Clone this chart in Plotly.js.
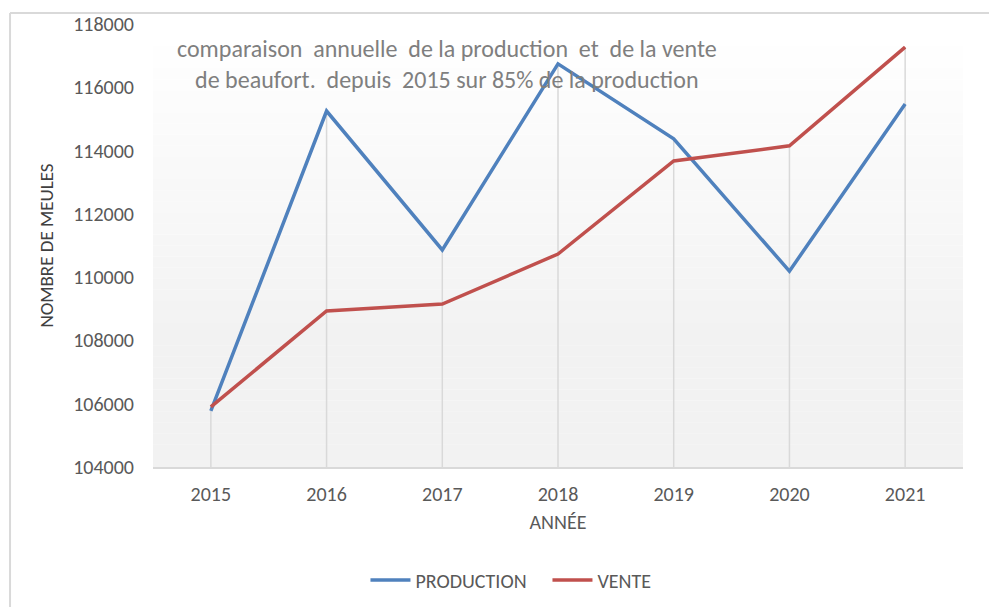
<!DOCTYPE html>
<html>
<head>
<meta charset="utf-8">
<script src="https://cdn.plot.ly/plotly-3.0.1.min.js"></script>
<style>
html,body{margin:0;padding:0;background:#fff;}
#chart{width:989px;height:607px;}
</style>
</head>
<body>
<div id="chart"></div>
<script>
var years = ['2015','2016','2017','2018','2019','2020','2021'];
var production = [105770, 115250, 110860, 116740, 114370, 110190, 115470];
var vente = [105900, 108930, 109150, 110730, 113670, 114150, 117270];
var yTicks = [104000, 106000, 108000, 110000, 112000, 114000, 116000, 118000];

var shapes = [];
// gradient plot background (white at top to light gray at bottom)
var N = 40;
for (var i = 0; i < N; i++) {
  var t = i / (N - 1);
  var c = Math.round(255 - (255 - 242) * Math.min(1, (1 - t) * 1.4));
  shapes.push({type:'rect', xref:'x domain', yref:'y domain', layer:'below',
    x0:0, x1:1, y0:i/N, y1:(i+1)/N, line:{width:0},
    fillcolor:'rgb('+c+','+c+','+c+')'});
}
// chart frame (top and left edges visible)
shapes.push({type:'line', xref:'paper', yref:'paper', x0:-0.1765, x1:1.05, y0:1.0248, y1:1.0248, line:{color:'#d9d9d9', width:2}});
shapes.push({type:'line', xref:'paper', yref:'paper', x0:-0.1765, x1:-0.1765, y0:1.0248, y1:-0.4, line:{color:'#d9d9d9', width:2}});

// drop lines from the highest series value down to the axis
var dropX = [], dropY = [];
years.forEach(function (yr, k) {
  dropX.push(yr, yr, null);
  dropY.push(Math.max(production[k], vente[k]), yTicks[0], null);
});

var data = [
  {x: dropX, y: dropY, type:'scatter', mode:'lines', showlegend:false, hoverinfo:'skip',
   line:{color:'#d9d9d9', width:1.5}, connectgaps:false},
  {x: years, y: production, name: 'PRODUCTION', type:'scatter', mode:'lines',
   line:{color:'#4F81BD', width:3.5}},
  {x: years, y: vente, name: 'VENTE', type:'scatter', mode:'lines',
   line:{color:'#C0504D', width:3.5}}
];

var layout = {
  width: 989, height: 607,
  margin: {l:153, r:26, t:24, b:140, autoexpand:false},
  paper_bgcolor: 'rgba(0,0,0,0)',
  plot_bgcolor: 'rgba(0,0,0,0)',
  font: {family: 'Carlito, "Open Sans", "Liberation Sans", sans-serif', color:'#595959', size:20},
  showlegend: true,
  legend: {orientation:'h', x:0.487, xanchor:'center', y:-0.255, yanchor:'middle',
    font:{size:20, color:'#595959'}, itemwidth:40, entrywidth:127, bgcolor:'rgba(0,0,0,0)'},
  xaxis: {
    type:'category', range:[-0.5, 6.5], showgrid:false,
    showline:true, linecolor:'#d9d9d9', linewidth:2,
    ticks:'', ticklabelstandoff: 8,
    tickfont:{size:20, color:'#595959'},
    title:{text:'ANNÉE', font:{size:20, color:'#595959'}, standoff:10},
    zeroline:false, fixedrange:true
  },
  yaxis: {
    range:[104000, 118000], tickvals: yTicks, ticktext: yTicks.map(String),
    showgrid:false, zeroline:false, showline:false, ticks:'',
    ticklabelstandoff: 18,
    tickfont:{size:20, color:'#595959'},
    title:{text:'NOMBRE DE MEULES', font:{size:19, color:'#404040'}, standoff:14},
    fixedrange:true
  },
  annotations: [{
    xref:'paper', yref:'paper', x:0.363, y:0.91, xanchor:'center', yanchor:'middle',
    showarrow:false, align:'center',
    text:'comparaison  annuelle  de la production  et  de la vente<br>de beaufort.  depuis  2015 sur 85% de la production',
    font:{size:24, color:'#7f7f7f'}
  }],
  shapes: shapes
};

Plotly.newPlot('chart', data, layout, {displayModeBar:false, staticPlot:true});
</script>
</body>
</html>
